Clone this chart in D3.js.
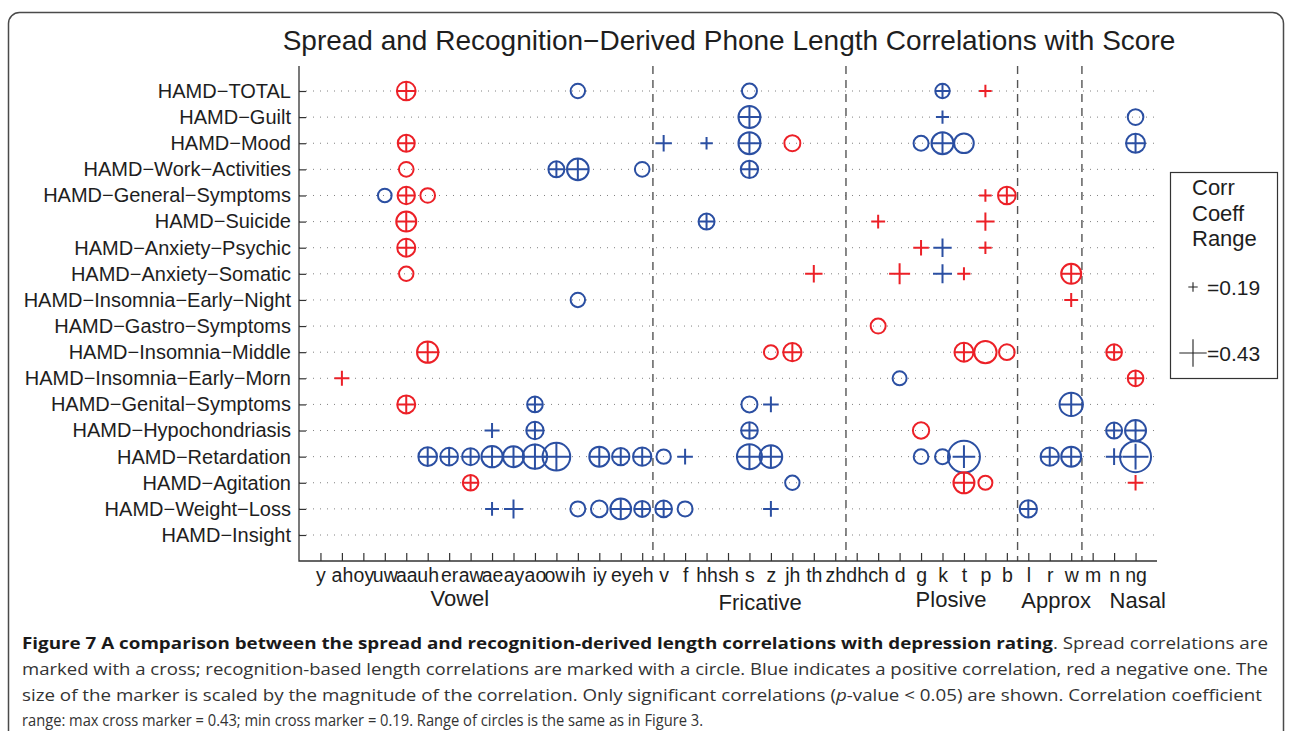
<!DOCTYPE html>
<html lang="en">
<head>
	<meta charset="UTF-8">
	<title>Spread and Recognition-Derived Phone Length Correlations with Score</title>
	<script src="https://d3js.org/d3.v7.min.js"></script>
	<style>
		* {
			margin: 0px;
			padding: 0px;
		}
		body { background: #fff; }
		svg { font-family: "Liberation Sans", Arial, sans-serif; display: block; }
	</style>
</head>
<body>
	<svg width="1289" height="731"></svg>
	<script>
		// phones along the x axis, in plot order
		var phones = ["y", "ah", "oy", "uw", "aa", "uh", "er", "aw", "ae", "ay", "ao", "ow", "ih", "iy", "ey", "eh",
			"v", "f", "hh", "sh", "s", "z", "jh", "th", "zh",
			"dh", "ch", "d", "g", "k", "t", "p", "b",
			"l", "r", "w",
			"m", "n", "ng"];

		// phone classes: [label, first phone, last phone]
		var groups = [
			["Vowel", "y", "eh"],
			["Fricative", "v", "zh"],
			["Plosive", "dh", "b"],
			["Approx", "l", "w"],
			["Nasal", "m", "ng"]
		];

		// HAMD sub-scores, top to bottom
		var measures = ["TOTAL", "Guilt", "Mood", "Work-Activities", "General-Symptoms", "Suicide",
			"Anxiety-Psychic", "Anxiety-Somatic", "Insomnia-Early-Night", "Gastro-Symptoms",
			"Insomnia-Middle", "Insomnia-Early-Morn", "Genital-Symptoms", "Hypochondriasis",
			"Retardation", "Agitation", "Weight-Loss", "Insight"];

		// recognition-based length correlations (circles): [measure, phone, r]
		var circles = [
			["TOTAL", "aa", -0.30], ["TOTAL", "ih", 0.236], ["TOTAL", "s", 0.245], ["TOTAL", "k", 0.236],
			["Guilt", "s", 0.35], ["Guilt", "ng", 0.255],
			["Mood", "aa", -0.275], ["Mood", "s", 0.35], ["Mood", "jh", -0.26], ["Mood", "g", 0.245],
			["Mood", "k", 0.35], ["Mood", "t", 0.315], ["Mood", "ng", 0.305],
			["Work-Activities", "aa", -0.24], ["Work-Activities", "ow", 0.26], ["Work-Activities", "ih", 0.345],
			["Work-Activities", "eh", 0.24], ["Work-Activities", "s", 0.28],
			["General-Symptoms", "uw", 0.225], ["General-Symptoms", "aa", -0.28], ["General-Symptoms", "uh", -0.24],
			["General-Symptoms", "b", -0.285],
			["Suicide", "aa", -0.32], ["Suicide", "hh", 0.26],
			["Anxiety-Psychic", "aa", -0.29],
			["Anxiety-Somatic", "aa", -0.236], ["Anxiety-Somatic", "w", -0.32],
			["Insomnia-Early-Night", "ih", 0.236],
			["Gastro-Symptoms", "ch", -0.245],
			["Insomnia-Middle", "uh", -0.34], ["Insomnia-Middle", "z", -0.23], ["Insomnia-Middle", "jh", -0.295],
			["Insomnia-Middle", "t", -0.305], ["Insomnia-Middle", "p", -0.355], ["Insomnia-Middle", "b", -0.255],
			["Insomnia-Middle", "n", -0.255],
			["Insomnia-Early-Morn", "d", 0.23], ["Insomnia-Early-Morn", "ng", -0.255],
			["Genital-Symptoms", "aa", -0.29], ["Genital-Symptoms", "ao", 0.255], ["Genital-Symptoms", "s", 0.26],
			["Genital-Symptoms", "w", 0.37],
			["Hypochondriasis", "ao", 0.28], ["Hypochondriasis", "s", 0.27], ["Hypochondriasis", "g", -0.265],
			["Hypochondriasis", "n", 0.26], ["Hypochondriasis", "ng", 0.335],
			["Retardation", "uh", 0.30], ["Retardation", "er", 0.285], ["Retardation", "aw", 0.275],
			["Retardation", "ae", 0.34], ["Retardation", "ay", 0.335], ["Retardation", "ao", 0.385],
			["Retardation", "ow", 0.435], ["Retardation", "iy", 0.32], ["Retardation", "ey", 0.28],
			["Retardation", "eh", 0.295], ["Retardation", "v", 0.236], ["Retardation", "s", 0.395],
			["Retardation", "z", 0.36], ["Retardation", "g", 0.24], ["Retardation", "k", 0.245],
			["Retardation", "t", 0.50], ["Retardation", "r", 0.295], ["Retardation", "w", 0.32],
			["Retardation", "ng", 0.485],
			["Agitation", "aw", -0.255], ["Agitation", "jh", 0.236], ["Agitation", "t", -0.335], ["Agitation", "p", -0.23],
			["Weight-Loss", "ih", 0.245], ["Weight-Loss", "iy", 0.27], ["Weight-Loss", "ey", 0.33],
			["Weight-Loss", "eh", 0.26], ["Weight-Loss", "v", 0.27], ["Weight-Loss", "f", 0.245],
			["Weight-Loss", "l", 0.28]
		];

		// spread correlations (crosses): [measure, phone, r]
		var crosses = [
			["TOTAL", "aa", -0.31], ["TOTAL", "k", 0.257], ["TOTAL", "p", -0.233],
			["Guilt", "s", 0.36], ["Guilt", "k", 0.24],
			["Mood", "aa", -0.29], ["Mood", "v", 0.285], ["Mood", "hh", 0.23], ["Mood", "s", 0.36],
			["Mood", "k", 0.36], ["Mood", "ng", 0.318],
			["Work-Activities", "ow", 0.278], ["Work-Activities", "ih", 0.35], ["Work-Activities", "s", 0.297],
			["General-Symptoms", "aa", -0.297], ["General-Symptoms", "p", -0.233], ["General-Symptoms", "b", -0.30],
			["Suicide", "aa", -0.33], ["Suicide", "hh", 0.278], ["Suicide", "ch", -0.25], ["Suicide", "p", -0.31],
			["Anxiety-Psychic", "aa", -0.305], ["Anxiety-Psychic", "g", -0.273], ["Anxiety-Psychic", "k", 0.31],
			["Anxiety-Psychic", "p", -0.233],
			["Anxiety-Somatic", "th", -0.297], ["Anxiety-Somatic", "d", -0.345], ["Anxiety-Somatic", "k", 0.318],
			["Anxiety-Somatic", "t", -0.238], ["Anxiety-Somatic", "w", -0.33],
			["Insomnia-Early-Night", "w", -0.25],
			["Insomnia-Middle", "uh", -0.35], ["Insomnia-Middle", "jh", -0.31], ["Insomnia-Middle", "t", -0.318],
			["Insomnia-Middle", "n", -0.273],
			["Insomnia-Early-Morn", "ah", -0.265], ["Insomnia-Early-Morn", "ng", -0.273],
			["Genital-Symptoms", "aa", -0.305], ["Genital-Symptoms", "ao", 0.273], ["Genital-Symptoms", "z", 0.273],
			["Genital-Symptoms", "w", 0.38],
			["Hypochondriasis", "ae", 0.265], ["Hypochondriasis", "ao", 0.297], ["Hypochondriasis", "s", 0.285],
			["Hypochondriasis", "n", 0.278], ["Hypochondriasis", "ng", 0.345],
			["Retardation", "uh", 0.31], ["Retardation", "er", 0.30], ["Retardation", "aw", 0.29],
			["Retardation", "ae", 0.35], ["Retardation", "ay", 0.345], ["Retardation", "ao", 0.41],
			["Retardation", "ow", 0.43], ["Retardation", "iy", 0.33], ["Retardation", "ey", 0.297],
			["Retardation", "eh", 0.31], ["Retardation", "f", 0.273], ["Retardation", "s", 0.40],
			["Retardation", "z", 0.366], ["Retardation", "t", 0.366], ["Retardation", "r", 0.31],
			["Retardation", "w", 0.33], ["Retardation", "n", 0.286], ["Retardation", "ng", 0.41],
			["Agitation", "aw", -0.273], ["Agitation", "t", -0.345], ["Agitation", "ng", -0.273],
			["Weight-Loss", "ae", 0.25], ["Weight-Loss", "ay", 0.318], ["Weight-Loss", "ey", 0.34],
			["Weight-Loss", "eh", 0.278], ["Weight-Loss", "v", 0.286], ["Weight-Loss", "z", 0.273],
			["Weight-Loss", "l", 0.297]
		];

		// legend cross sizes
		var legendValues = [0.19, 0.43];

		// caption, one entry per printed line; each part: [style, text]
		var captionLines = [
			[["b", "Figure 7 A comparison between the spread and recognition-derived length correlations with depression rating"], ["", ". Spread correlations are"]],
			[["", "marked with a cross; recognition-based length correlations are marked with a circle. Blue indicates a positive correlation, red a negative one. The"]],
			[["", "size of the marker is scaled by the magnitude of the correlation. Only significant correlations ("], ["i", "p"], ["", "-value < 0.05) are shown. Correlation coefficient"]],
			[["", "range: max cross marker = 0.43; min cross marker = 0.19. Range of circles is the same as in Figure 3."]]
		];

		var svg = d3.select("svg");
		var blue = "#2b4fa2", red = "#ec2027", ink = "#1e1e1e";

		var plotLeft = 299, plotRight = 1157, plotTop = 66, plotBottom = 561;

		var x = d3.scalePoint().domain(phones).range([plotLeft, plotRight]).padding(1);
		var y = d3.scalePoint().domain(measures).range([91, 535]);
		var rScale = d3.scaleLinear().domain([0.2, 0.5]).range([6, 16]);
		var crossScale = d3.scaleLinear().domain([0.19, 0.43]).range([4.7, 13.7]);

		svg.append("rect").attr("width", 1289).attr("height", 731).attr("fill", "#fff");

		// figure frame
		svg.append("rect")
			.attr("x", 8.5).attr("y", 12.5)
			.attr("width", 1275).attr("height", 760)
			.attr("rx", 11)
			.attr("fill", "none").attr("stroke", "#4a4a4a").attr("stroke-width", 1.5);

		svg.append("text")
			.attr("x", 729).attr("y", 50)
			.attr("text-anchor", "middle")
			.attr("font-size", 28)
			.attr("fill", ink)
			.text("Spread and Recognition\u2212Derived Phone Length Correlations with Score");

		// dotted row guides
		svg.append("g").selectAll("line")
			.data(measures)
			.enter()
			.append("line")
			.attr("x1", plotLeft).attr("x2", plotRight)
			.attr("y1", (d) => y(d)).attr("y2", (d) => y(d))
			.attr("stroke", "#808080").attr("stroke-width", 1)
			.attr("stroke-dasharray", "1,6");

		// dashed class separators
		var step = x.step();
		svg.append("g").selectAll("line")
			.data(groups.slice(0, -1))
			.enter()
			.append("line")
			.attr("x1", (d) => x(d[2]) + step / 2).attr("x2", (d) => x(d[2]) + step / 2)
			.attr("y1", plotTop).attr("y2", plotBottom)
			.attr("stroke", "#555").attr("stroke-width", 1.4)
			.attr("stroke-dasharray", "8,6");

		// axes
		var yAxis = svg.append("g")
			.attr("transform", "translate(" + plotLeft + ",0)")
			.call(d3.axisLeft(y).tickSize(-7).tickSizeOuter(0).tickPadding(8)
				.tickFormat((d) => "HAMD\u2212" + d.replace(/-/g, "\u2212")));
		var xAxis = svg.append("g")
			.attr("transform", "translate(0," + plotBottom + ")")
			.call(d3.axisBottom(x).tickSize(-8).tickSizeOuter(0).tickPadding(7));

		[yAxis, xAxis].forEach(function (g) {
			g.select(".domain").remove();
			g.selectAll("line").attr("stroke", "#333").attr("stroke-width", 1.2);
			g.selectAll("text")
				.attr("font-size", 19.5)
				.attr("font-family", "Liberation Sans, Arial, sans-serif")
				.attr("fill", ink);
		});
		yAxis.selectAll("text").attr("font-size", 20);

		svg.append("path")
			.attr("d", "M" + plotLeft + "," + plotTop + "V" + plotBottom + "H" + plotRight)
			.attr("fill", "none").attr("stroke", "#333").attr("stroke-width", 1.3);

		// class labels (positions in phone-step units from the first phone)
		var groupLabelAt = [6.5, 20.5, 29.4, 34.3, 38.1];
		var groupLabelBase = [606, 610, 607, 608, 608];
		svg.append("g").selectAll("text")
			.data(groups)
			.enter()
			.append("text")
			.attr("x", (d, i) => x(phones[0]) + groupLabelAt[i] * step)
			.attr("y", (d, i) => groupLabelBase[i])
			.attr("text-anchor", "middle")
			.attr("font-size", 22)
			.attr("fill", ink)
			.text((d) => d[0]);

		function colour(v) { return v < 0 ? red : blue; }

		svg.append("g").selectAll("circle")
			.data(circles)
			.enter()
			.append("circle")
			.attr("cx", (d) => x(d[1]))
			.attr("cy", (d) => y(d[0]))
			.attr("r", (d) => rScale(Math.abs(d[2])))
			.attr("fill", "none")
			.attr("stroke", (d) => colour(d[2]))
			.attr("stroke-width", 2);

		function crossPath(cx, cy, h) {
			return "M" + (cx - h) + "," + cy + "H" + (cx + h) + "M" + cx + "," + (cy - h) + "V" + (cy + h);
		}

		svg.append("g").selectAll("path")
			.data(crosses)
			.enter()
			.append("path")
			.attr("d", (d) => crossPath(x(d[1]), y(d[0]), crossScale(Math.abs(d[2]))))
			.attr("fill", "none")
			.attr("stroke", (d) => colour(d[2]))
			.attr("stroke-width", 2);

		// legend
		var legend = svg.append("g");
		legend.append("rect")
			.attr("x", 1170.5).attr("y", 172.5)
			.attr("width", 107).attr("height", 206)
			.attr("fill", "#fff").attr("stroke", "#333").attr("stroke-width", 1.2);
		["Corr", "Coeff", "Range"].forEach(function (t, i) {
			legend.append("text")
				.attr("x", 1192).attr("y", 195 + i * 25.5)
				.attr("font-size", 22).attr("fill", ink)
				.text(t);
		});
		legend.selectAll(".key")
			.data(legendValues)
			.enter()
			.append("g")
			.attr("class", "key")
			.each(function (v, i) {
				var cy = 287 + i * 66;
				d3.select(this).append("path")
					.attr("d", crossPath(1193, cy, crossScale(v)))
					.attr("stroke", "#222").attr("stroke-width", 1.1);
				d3.select(this).append("text")
					.attr("x", 1207).attr("y", cy + 7.5)
					.attr("font-size", 21).attr("fill", ink)
					.text("=" + v.toFixed(2));
			});

		// caption: each printed line squeezed to its justified width
		var captionWidths = [1246, 1246, 1240, 681];
		var caption = svg.append("g")
			.attr("font-family", "Open Sans, Noto Sans, sans-serif")
			.attr("font-size", 16.5)
			.attr("fill", "#333");
		captionLines.forEach(function (line, i) {
			var t = caption.append("text")
				.attr("x", 22).attr("y", 649 + i * 25.8)
				.attr("textLength", captionWidths[i])
				.attr("lengthAdjust", "spacingAndGlyphs");
			line.forEach(function (part) {
				t.append("tspan")
					.attr("font-weight", part[0] === "b" ? "bold" : null)
					.attr("font-style", part[0] === "i" ? "italic" : null)
					.attr("fill", part[0] === "b" ? "#1a1a1a" : null)
					.text(part[1]);
			});
		});
	</script>
</body>
</html>
